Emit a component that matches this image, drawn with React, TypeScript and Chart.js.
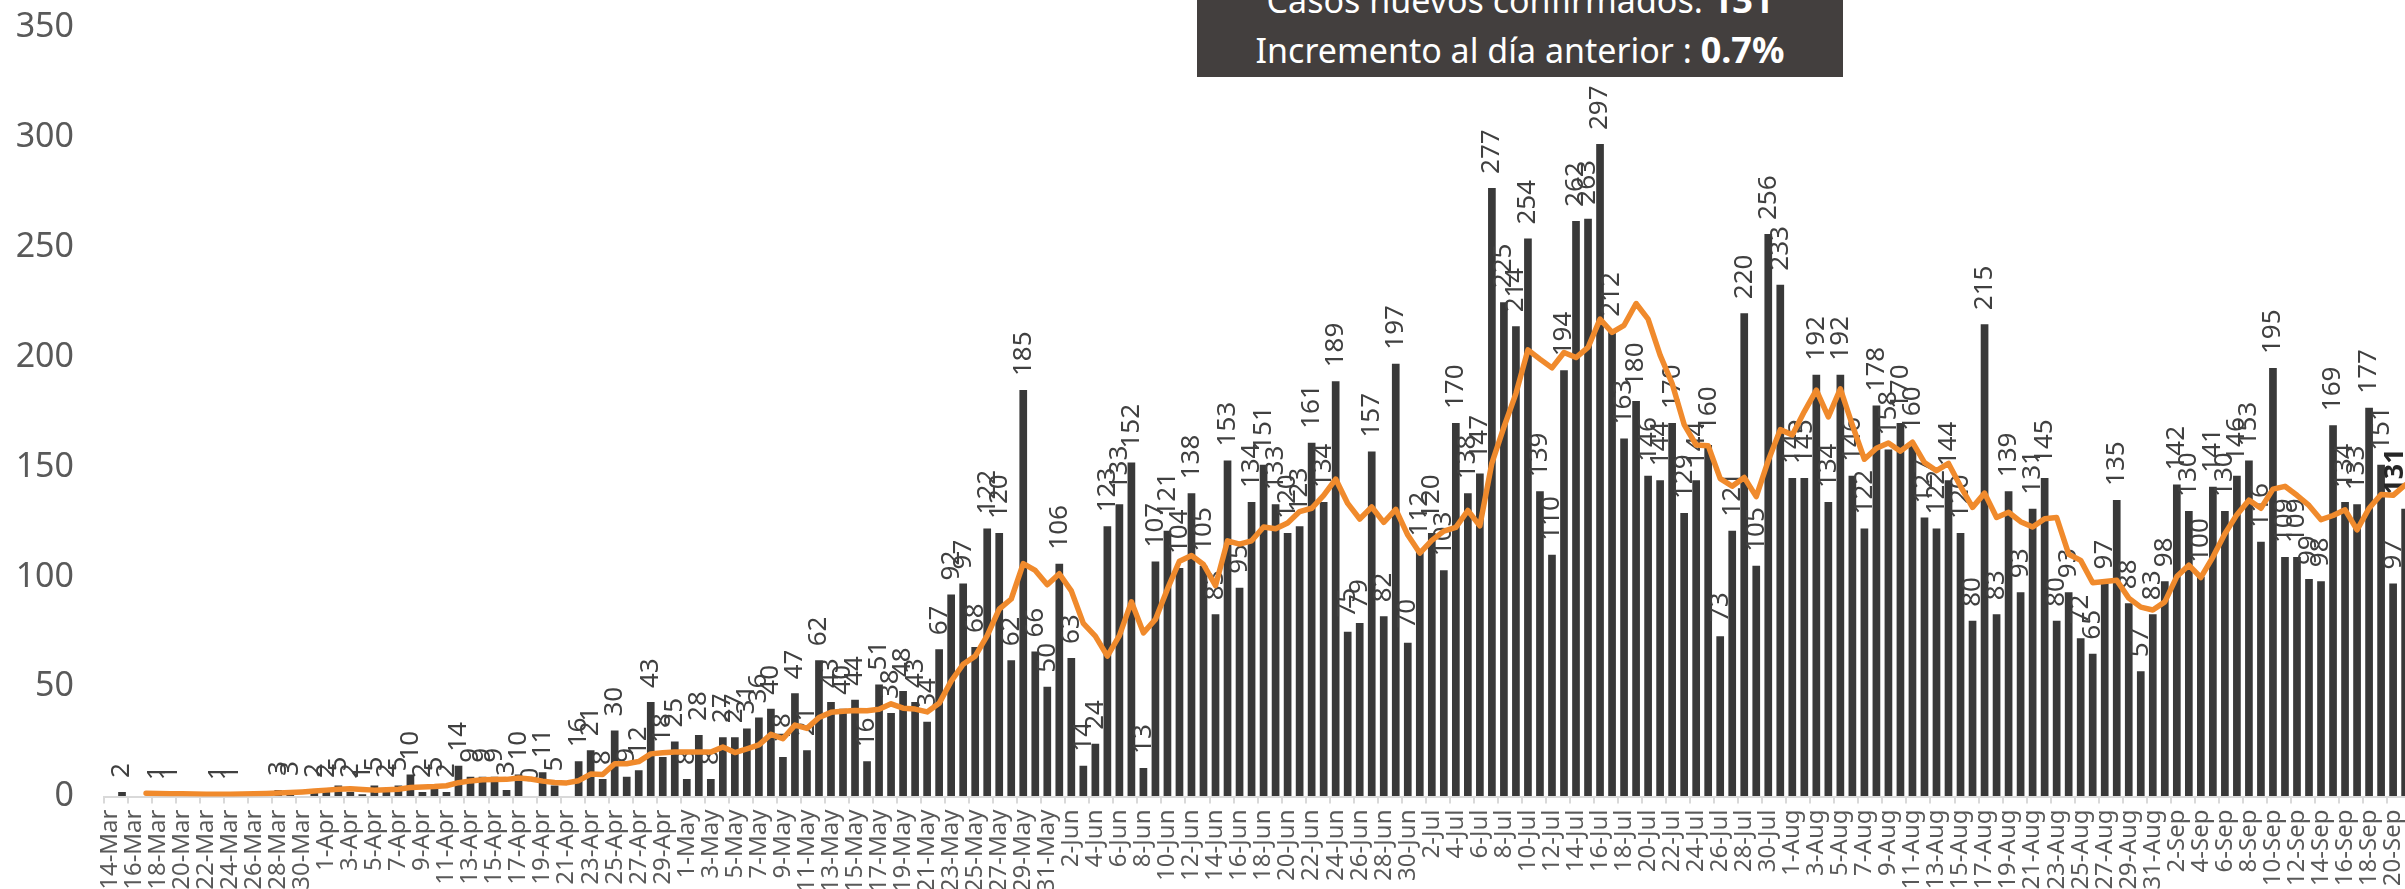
import React, { useEffect, useRef } from "react";
import { Chart, registerables } from "chart.js";

Chart.register(...registerables);

// ---------- Data ----------
const marDates = ["14-Mar","15-Mar","16-Mar","17-Mar","18-Mar","19-Mar","20-Mar","21-Mar","22-Mar","23-Mar","24-Mar","25-Mar","26-Mar","27-Mar","28-Mar","29-Mar","30-Mar","31-Mar"];
const aprDates = ["1-Apr","2-Apr","3-Apr","4-Apr","5-Apr","6-Apr","7-Apr","8-Apr","9-Apr","10-Apr","11-Apr","12-Apr","13-Apr","14-Apr","15-Apr","16-Apr","17-Apr","18-Apr","19-Apr","20-Apr","21-Apr","22-Apr","23-Apr","24-Apr","25-Apr","26-Apr","27-Apr","28-Apr","29-Apr","30-Apr"];
const mayDates = ["1-May","2-May","3-May","4-May","5-May","6-May","7-May","8-May","9-May","10-May","11-May","12-May","13-May","14-May","15-May","16-May","17-May","18-May","19-May","20-May","21-May","22-May","23-May","24-May","25-May","26-May","27-May","28-May","29-May","30-May","31-May"];
const junDates = ["1-Jun","2-Jun","3-Jun","4-Jun","5-Jun","6-Jun","7-Jun","8-Jun","9-Jun","10-Jun","11-Jun","12-Jun","13-Jun","14-Jun","15-Jun","16-Jun","17-Jun","18-Jun","19-Jun","20-Jun","21-Jun","22-Jun","23-Jun","24-Jun","25-Jun","26-Jun","27-Jun","28-Jun","29-Jun","30-Jun"];
const julDates = ["1-Jul","2-Jul","3-Jul","4-Jul","5-Jul","6-Jul","7-Jul","8-Jul","9-Jul","10-Jul","11-Jul","12-Jul","13-Jul","14-Jul","15-Jul","16-Jul","17-Jul","18-Jul","19-Jul","20-Jul","21-Jul","22-Jul","23-Jul","24-Jul","25-Jul","26-Jul","27-Jul","28-Jul","29-Jul","30-Jul","31-Jul"];
const augDates = ["1-Aug","2-Aug","3-Aug","4-Aug","5-Aug","6-Aug","7-Aug","8-Aug","9-Aug","10-Aug","11-Aug","12-Aug","13-Aug","14-Aug","15-Aug","16-Aug","17-Aug","18-Aug","19-Aug","20-Aug","21-Aug","22-Aug","23-Aug","24-Aug","25-Aug","26-Aug","27-Aug","28-Aug","29-Aug","30-Aug","31-Aug"];
const sepDates = ["1-Sep","2-Sep","3-Sep","4-Sep","5-Sep","6-Sep","7-Sep","8-Sep","9-Sep","10-Sep","11-Sep","12-Sep","13-Sep","14-Sep","15-Sep","16-Sep","17-Sep","18-Sep","19-Sep","20-Sep","21-Sep"];

// Daily new confirmed cases (bars)
const casosMar = [null,2,null,null,1,1,null,null,null,1,1,null,null,null,3,3,null,2];
const casosApr = [2,5,2,1,5,2,5,10,2,5,2,14,9,9,9,3,10,0,11,5,null,16,21,8,30,9,12,43,18,25];
const casosMay = [8,28,8,27,27,31,36,40,18,47,21,62,43,40,44,16,51,38,48,43,34,67,92,97,68,122,120,62,185,66,50];
const casosJun = [106,63,14,24,123,133,152,13,107,121,104,138,105,83,153,95,134,151,133,120,123,161,134,189,75,79,157,82,197,70];
const casosJul = [112,120,103,170,138,147,277,225,214,254,139,110,194,262,263,297,212,163,180,146,144,170,129,144,160,73,121,220,105,256,233];
const casosAug = [145,145,192,134,192,146,122,178,158,170,160,127,122,144,120,80,215,83,139,93,131,145,80,93,72,65,97,135,88,57,83];
const casosSep = [98,142,130,100,141,130,146,153,116,195,109,109,99,98,169,134,133,177,151,97,131];

// Moving average (orange line)
const promMar = [null,null,null,1.5,1.4,1.3,1.2,1.1,1.0,1.0,1.0,1.1,1.2,1.4,1.6,1.8,2.1,2.5];
const promApr = [2.9,3.3,3.5,3.2,2.9,3.1,3.3,4.1,4.3,4.5,4.9,6.3,7.1,7.6,7.7,7.8,8.4,8.0,7.0,6.4,6.2,7.2,10.2,10.0,14.9,14.9,15.9,19.4,19.9,20.3];
const promMay = [20.3,20.2,20.2,22.5,20.0,21.7,23.5,28.3,26.3,32.5,31.0,36.0,38.3,38.8,39.2,39.0,39.7,42.2,40.2,39.8,38.5,42.4,52.5,60.2,63.9,73.2,85.3,89.9,106.0,102.9,96.4];
const promJun = [101.4,93.6,78.8,73.0,63.9,73.2,88.6,74.5,80.6,94.5,107.1,109.7,105.6,96.0,116.4,114.9,116.4,122.7,121.9,124.5,129.7,131.2,137.1,144.5,133.4,126.3,131.8,124.8,130.7,119.0];
const promJul = [110.8,116.6,120.8,122.5,130.2,123.2,151.8,168.1,183.4,203.3,199.1,195.1,202.1,199.8,204.4,217.3,211.3,214.5,224.4,217.3,200.9,188.0,169.3,160.0,159.7,144.7,141.2,145.2,136.5,152.9,167.0];
const promAug = [164.6,175.2,185.0,172.8,185.6,169.0,153.5,158.5,160.9,157.2,161.3,152.0,148.3,151.6,141.2,131.6,138.1,127.0,129.4,125.1,122.7,126.4,127.0,110.3,107.5,97.3,97.9,98.4,90.3,86.2,84.9];
const promSep = [88.6,100.1,105.3,99.7,109.0,119.6,128.3,134.9,131.2,139.9,141.2,137.1,132.5,126.0,127.9,130.5,121.4,131.2,137.5,137.1,141.8];

const yTicks = [0, 50, 100, 150, 200, 250, 300, 350];
const incrementoTexto = "0.7%";

const categories = [...marDates, ...aprDates, ...mayDates, ...junDates, ...julDates, ...augDates, ...sepDates];
const casos = [...casosMar, ...casosApr, ...casosMay, ...casosJun, ...casosJul, ...casosAug, ...casosSep];
const promedio = [...promMar, ...promApr, ...promMay, ...promJun, ...promJul, ...promAug, ...promSep];

// ---------- Styles ----------
const FONT = "'Noto Sans', 'DejaVu Sans', sans-serif";
const BAR_COLOR = "#393939";
const LINE_COLOR = "#F08A2C";
const AXIS_TEXT = "#595959";
const LABEL_TEXT = "#404040";
const AXIS_LINE = "#d9d9d9";

const CANVAS_W = 2440;
const CANVAS_H = 897;

export default function App() {
  const ref = useRef<HTMLCanvasElement | null>(null);

  useEffect(() => {
    const canvas = ref.current;
    if (!canvas) return;

    const barLabels = {
      id: "barLabels",
      afterDatasetDraw(chart: any, args: any) {
        if (args.index !== 0) return;
        const meta = chart.getDatasetMeta(0);
        const ctx = chart.ctx;
        ctx.save();
        meta.data.forEach((el: any, i: number) => {
          const v = casos[i];
          if (v === null || v === undefined) return;
          const last = i === casos.length - 1;
          ctx.font = (last ? "bold 27px " : "26px ") + FONT;
          ctx.fillStyle = last ? "#262626" : LABEL_TEXT;
          const x = Math.min(el.x, chart.chartArea.right - 16);
          ctx.save();
          ctx.translate(x, el.y - 14);
          ctx.rotate(-Math.PI / 2);
          ctx.textAlign = "left";
          ctx.textBaseline = "middle";
          ctx.fillText(String(v), 0, 0);
          ctx.restore();
        });
        ctx.restore();
      },
    };

    const chart = new Chart(canvas, {
      type: "bar",
      data: {
        labels: categories,
        datasets: [
          {
            type: "bar",
            data: casos as any,
            backgroundColor: BAR_COLOR,
            barPercentage: 0.64,
            categoryPercentage: 1,
            order: 1,
          },
          {
            type: "line",
            data: promedio as any,
            borderColor: LINE_COLOR,
            borderWidth: 5.5,
            pointRadius: 0,
            tension: 0,
            fill: false,
            order: 0,
            borderCapStyle: "round",
            borderJoinStyle: "round",
          },
        ] as any,
      },
      options: {
        responsive: false,
        animation: false,
        layout: { padding: { top: 27.6, right: 26, left: 0, bottom: 0 } },
        plugins: {
          legend: { display: false },
          tooltip: { enabled: false },
          title: { display: false },
        },
        scales: {
          x: {
            offset: true,
            grid: {
              display: true,
              drawOnChartArea: false,
              drawTicks: true,
              tickLength: 7,
              offset: true,
              lineWidth: 2,
              color: (c: any) => (c.index % 2 === 0 ? AXIS_LINE : "rgba(0,0,0,0)"),
            },
            border: { display: true, color: AXIS_LINE, width: 2 },
            ticks: {
              autoSkip: false,
              maxRotation: 90,
              minRotation: 90,
              padding: 6,
              color: AXIS_TEXT,
              font: { family: FONT, size: 24 },
              callback: (_v: any, idx: number) => (idx % 2 === 0 ? categories[idx] : ""),
            },
            afterFit: (s: any) => {
              s.height = 100.5;
            },
          },
          y: {
            min: yTicks[0],
            max: yTicks[yTicks.length - 1],
            grid: {
              display: true,
              drawOnChartArea: false,
              drawTicks: true,
              tickLength: 30,
              color: "rgba(0,0,0,0)",
            },
            border: { display: false },
            ticks: {
              stepSize: 50,
              padding: 0,
              color: AXIS_TEXT,
              font: { family: FONT, size: 34 },
            },
            afterFit: (s: any) => {
              s.width = 104;
            },
          },
        },
      },
      plugins: [barLabels],
    });

    return () => chart.destroy();
  }, []);

  const lastCasos = casos[casos.length - 1];

  return (
    <div
      style={{
        position: "fixed",
        left: 0,
        top: 0,
        width: 2405,
        height: 889,
        overflow: "hidden",
        background: "#ffffff",
      }}
    >
      <canvas
        ref={ref}
        width={CANVAS_W}
        height={CANVAS_H}
        style={{ position: "absolute", left: 0, top: 0, width: CANVAS_W, height: CANVAS_H, display: "block" }}
      />
      <div
        style={{
          position: "absolute",
          left: 1197,
          top: -30,
          width: 646,
          height: 107,
          background: "#433f3e",
          color: "#ffffff",
          fontFamily: FONT,
          fontSize: 34,
          textAlign: "center",
          boxSizing: "border-box",
          paddingTop: 5,
        }}
      >
        <div style={{ lineHeight: "50px", whiteSpace: "nowrap" }}>
          Casos nuevos confirmados:{" "}
          <span style={{ fontWeight: 700, fontSize: 36 }}>{lastCasos}</span>
        </div>
        <div style={{ lineHeight: "50px", whiteSpace: "nowrap" }}>
          Incremento al día anterior :{" "}
          <span style={{ fontWeight: 700, fontSize: 36 }}>{incrementoTexto}</span>
        </div>
      </div>
    </div>
  );
}
